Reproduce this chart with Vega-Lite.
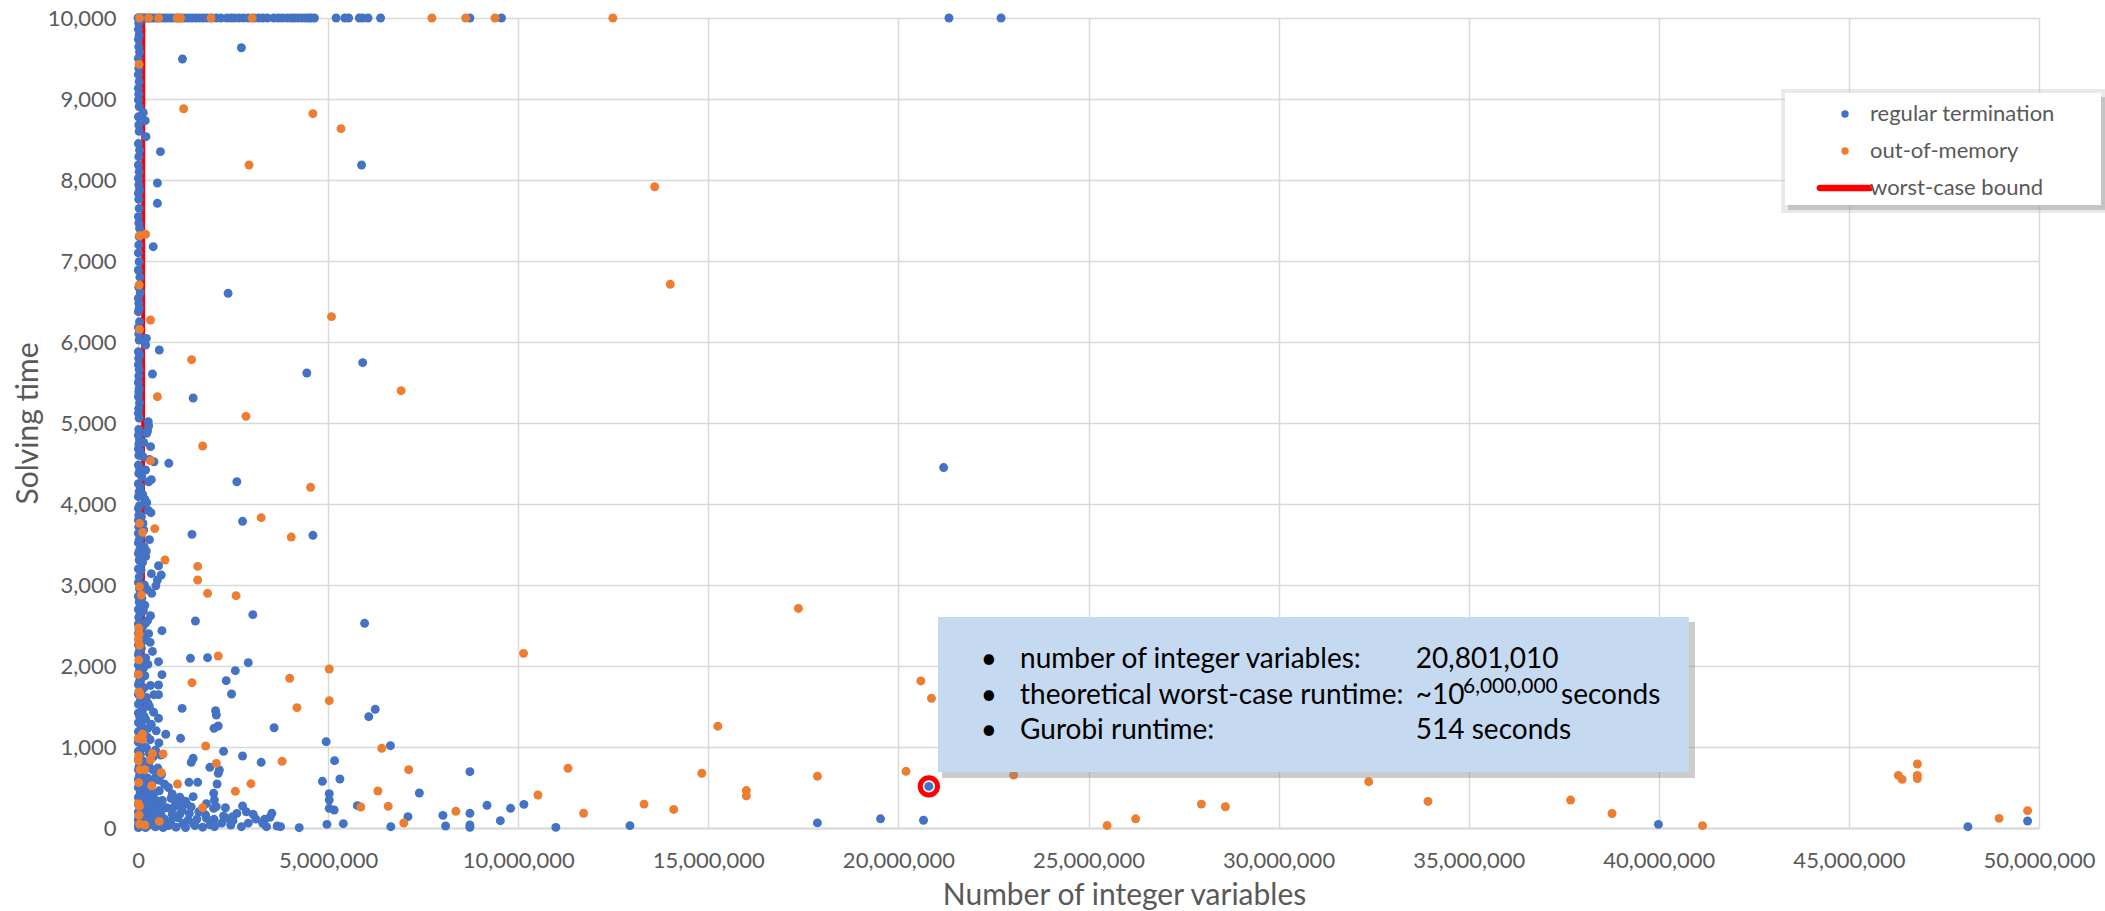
{
  "$schema": "https://vega.github.io/schema/vega-lite/v6.json",
  "width": 1901,
  "height": 810,
  "autosize": {"type": "none"},
  "padding": {"left": 138, "top": 18, "right": 66, "bottom": 83},
  "background": "white",
  "datasets": {
    "bound": [
      {"vars": 100000, "time": 0},
      {"vars": 130000, "time": 2500},
      {"vars": 140000, "time": 10000}
    ],
    "runs": [
      {"vars":0,"time":10000,"status":"regular"},{"vars":20000,"time":10000,"status":"regular"},{"vars":60000,"time":10000,"status":"regular"},{"vars":100000,"time":10000,"status":"regular"},{"vars":150000,"time":10000,"status":"regular"},{"vars":200000,"time":10000,"status":"regular"},{"vars":260000,"time":10000,"status":"regular"},{"vars":320000,"time":10000,"status":"regular"},{"vars":380000,"time":10000,"status":"regular"},{"vars":450000,"time":10000,"status":"regular"},{"vars":520000,"time":10000,"status":"regular"},{"vars":600000,"time":10000,"status":"regular"},{"vars":680000,"time":10000,"status":"regular"},{"vars":760000,"time":10000,"status":"regular"},{"vars":850000,"time":10000,"status":"regular"},{"vars":940000,"time":10000,"status":"regular"},{"vars":1030000,"time":10000,"status":"regular"},{"vars":1120000,"time":10000,"status":"regular"},{"vars":1220000,"time":10000,"status":"regular"},{"vars":1320000,"time":10000,"status":"regular"},{"vars":1420000,"time":10000,"status":"regular"},{"vars":1520000,"time":10000,"status":"regular"},{"vars":1620000,"time":10000,"status":"regular"},{"vars":1720000,"time":10000,"status":"regular"},{"vars":1820000,"time":10000,"status":"regular"},{"vars":1930000,"time":10000,"status":"regular"},{"vars":2060000,"time":10000,"status":"regular"},{"vars":2180000,"time":10000,"status":"regular"},{"vars":2340000,"time":10000,"status":"regular"},{"vars":2450000,"time":10000,"status":"regular"},{"vars":2530000,"time":10000,"status":"regular"},{"vars":2650000,"time":10000,"status":"regular"},{"vars":2770000,"time":10000,"status":"regular"},{"vars":2900000,"time":10000,"status":"regular"},{"vars":3050000,"time":10000,"status":"regular"},{"vars":3170000,"time":10000,"status":"regular"},{"vars":3280000,"time":10000,"status":"regular"},{"vars":3400000,"time":10000,"status":"regular"},{"vars":3570000,"time":10000,"status":"regular"},{"vars":3690000,"time":10000,"status":"regular"},{"vars":3800000,"time":10000,"status":"regular"},{"vars":3930000,"time":10000,"status":"regular"},{"vars":4040000,"time":10000,"status":"regular"},{"vars":4120000,"time":10000,"status":"regular"},{"vars":4220000,"time":10000,"status":"regular"},{"vars":4320000,"time":10000,"status":"regular"},{"vars":4410000,"time":10000,"status":"regular"},{"vars":4490000,"time":10000,"status":"regular"},{"vars":4550000,"time":10000,"status":"regular"},{"vars":4640000,"time":10000,"status":"regular"},{"vars":5210000,"time":10000,"status":"regular"},{"vars":5440000,"time":10000,"status":"regular"},{"vars":5540000,"time":10000,"status":"regular"},{"vars":5820000,"time":10000,"status":"regular"},{"vars":5910000,"time":10000,"status":"regular"},{"vars":6050000,"time":10000,"status":"regular"},{"vars":6380000,"time":10000,"status":"regular"},{"vars":8730000,"time":10000,"status":"regular"},{"vars":9560000,"time":10000,"status":"regular"},{"vars":21330000,"time":10000,"status":"regular"},{"vars":22700000,"time":10000,"status":"regular"},
      {"vars":20000,"time":9934,"status":"regular"},{"vars":10000,"time":9860,"status":"regular"},{"vars":30000,"time":9790,"status":"regular"},{"vars":10000,"time":9737,"status":"regular"},{"vars":20000,"time":9646,"status":"regular"},{"vars":40000,"time":9580,"status":"regular"},{"vars":10000,"time":9500,"status":"regular"},{"vars":20000,"time":9379,"status":"regular"},{"vars":10000,"time":9300,"status":"regular"},{"vars":30000,"time":9214,"status":"regular"},{"vars":10000,"time":9132,"status":"regular"},{"vars":20000,"time":9060,"status":"regular"},{"vars":10000,"time":8990,"status":"regular"},{"vars":30000,"time":8905,"status":"regular"},{"vars":140000,"time":8831,"status":"regular"},{"vars":10000,"time":8780,"status":"regular"},{"vars":190000,"time":8733,"status":"regular"},{"vars":20000,"time":8679,"status":"regular"},{"vars":30000,"time":8600,"status":"regular"},{"vars":210000,"time":8535,"status":"regular"},{"vars":10000,"time":8450,"status":"regular"},{"vars":40000,"time":8370,"status":"regular"},{"vars":20000,"time":8288,"status":"regular"},{"vars":10000,"time":8185,"status":"regular"},{"vars":30000,"time":8103,"status":"regular"},{"vars":10000,"time":8020,"status":"regular"},{"vars":20000,"time":7938,"status":"regular"},{"vars":40000,"time":7877,"status":"regular"},{"vars":10000,"time":7835,"status":"regular"},{"vars":20000,"time":7761,"status":"regular"},{"vars":30000,"time":7650,"status":"regular"},{"vars":10000,"time":7547,"status":"regular"},{"vars":20000,"time":7470,"status":"regular"},{"vars":40000,"time":7403,"status":"regular"},{"vars":30000,"time":7300,"status":"regular"},{"vars":20000,"time":7198,"status":"regular"},{"vars":10000,"time":7100,"status":"regular"},{"vars":30000,"time":6991,"status":"regular"},{"vars":10000,"time":6889,"status":"regular"},{"vars":50000,"time":6800,"status":"regular"},{"vars":20000,"time":6675,"status":"regular"},{"vars":60000,"time":6609,"status":"regular"},{"vars":10000,"time":6540,"status":"regular"},{"vars":20000,"time":6477,"status":"regular"},{"vars":30000,"time":6416,"status":"regular"},{"vars":10000,"time":6374,"status":"regular"},{"vars":40000,"time":6251,"status":"regular"},{"vars":10000,"time":6180,"status":"regular"},{"vars":20000,"time":6100,"status":"regular"},{"vars":220000,"time":6045,"status":"regular"},{"vars":30000,"time":6025,"status":"regular"},{"vars":200000,"time":5963,"status":"regular"},{"vars":560000,"time":5901,"status":"regular"},{"vars":10000,"time":5880,"status":"regular"},{"vars":40000,"time":5840,"status":"regular"},{"vars":20000,"time":5799,"status":"regular"},{"vars":10000,"time":5720,"status":"regular"},{"vars":30000,"time":5660,"status":"regular"},{"vars":380000,"time":5605,"status":"regular"},{"vars":20000,"time":5580,"status":"regular"},{"vars":10000,"time":5500,"status":"regular"},{"vars":30000,"time":5428,"status":"regular"},{"vars":20000,"time":5387,"status":"regular"},{"vars":10000,"time":5325,"status":"regular"},{"vars":40000,"time":5250,"status":"regular"},{"vars":20000,"time":5181,"status":"regular"},{"vars":10000,"time":5119,"status":"regular"},{"vars":30000,"time":5060,"status":"regular"},{"vars":270000,"time":5016,"status":"regular"},{"vars":280000,"time":4963,"status":"regular"},{"vars":20000,"time":4920,"status":"regular"},{"vars":230000,"time":4873,"status":"regular"},{"vars":10000,"time":4850,"status":"regular"},{"vars":40000,"time":4790,"status":"regular"},{"vars":20000,"time":4740,"status":"regular"},{"vars":330000,"time":4708,"status":"regular"},{"vars":10000,"time":4680,"status":"regular"},{"vars":60000,"time":4646,"status":"regular"},{"vars":20000,"time":4600,"status":"regular"},{"vars":130000,"time":4584,"status":"regular"},{"vars":420000,"time":4522,"status":"regular"},{"vars":10000,"time":4481,"status":"regular"},{"vars":50000,"time":4430,"status":"regular"},{"vars":20000,"time":4378,"status":"regular"},{"vars":100000,"time":4337,"status":"regular"},{"vars":280000,"time":4275,"status":"regular"},{"vars":10000,"time":4250,"status":"regular"},{"vars":60000,"time":4214,"status":"regular"},{"vars":30000,"time":4152,"status":"regular"},{"vars":120000,"time":4120,"status":"regular"},{"vars":10000,"time":4090,"status":"regular"},{"vars":230000,"time":4016,"status":"regular"},{"vars":40000,"time":3980,"status":"regular"},{"vars":10000,"time":3946,"status":"regular"},{"vars":340000,"time":3893,"status":"regular"},{"vars":20000,"time":3860,"status":"regular"},{"vars":90000,"time":3843,"status":"regular"},{"vars":10000,"time":3800,"status":"regular"},{"vars":50000,"time":3761,"status":"regular"},{"vars":20000,"time":3720,"status":"regular"},{"vars":150000,"time":3679,"status":"regular"},{"vars":10000,"time":3638,"status":"regular"},{"vars":80000,"time":3600,"status":"regular"},{"vars":30000,"time":3556,"status":"regular"},{"vars":10000,"time":3520,"status":"regular"},{"vars":160000,"time":3473,"status":"regular"},{"vars":40000,"time":3430,"status":"regular"},{"vars":10000,"time":3391,"status":"regular"},{"vars":200000,"time":3350,"status":"regular"},{"vars":30000,"time":3309,"status":"regular"},{"vars":540000,"time":3238,"status":"regular"},{"vars":10000,"time":3200,"status":"regular"},{"vars":80000,"time":3185,"status":"regular"},{"vars":610000,"time":3123,"status":"regular"},{"vars":30000,"time":3100,"status":"regular"},{"vars":510000,"time":3062,"status":"regular"},{"vars":10000,"time":3030,"status":"regular"},{"vars":170000,"time":3000,"status":"regular"},{"vars":470000,"time":2990,"status":"regular"},{"vars":40000,"time":2950,"status":"regular"},{"vars":360000,"time":2897,"status":"regular"},{"vars":10000,"time":2860,"status":"regular"},{"vars":100000,"time":2835,"status":"regular"},{"vars":30000,"time":2790,"status":"regular"},{"vars":180000,"time":2750,"status":"regular"},{"vars":10000,"time":2700,"status":"regular"},{"vars":60000,"time":2650,"status":"regular"},{"vars":20000,"time":2600,"status":"regular"},{"vars":250000,"time":2560,"status":"regular"},{"vars":10000,"time":2520,"status":"regular"},{"vars":120000,"time":2480,"status":"regular"},{"vars":630000,"time":2436,"status":"regular"},{"vars":30000,"time":2440,"status":"regular"},{"vars":10000,"time":2400,"status":"regular"},{"vars":180000,"time":2360,"status":"regular"},{"vars":40000,"time":2330,"status":"regular"},{"vars":320000,"time":2292,"status":"regular"},{"vars":10000,"time":2260,"status":"regular"},{"vars":90000,"time":2220,"status":"regular"},{"vars":30000,"time":2180,"status":"regular"},{"vars":10000,"time":2140,"status":"regular"},{"vars":200000,"time":2100,"status":"regular"},{"vars":60000,"time":2060,"status":"regular"},{"vars":540000,"time":2053,"status":"regular"},{"vars":10000,"time":2010,"status":"regular"},{"vars":140000,"time":1970,"status":"regular"},{"vars":30000,"time":1930,"status":"regular"},{"vars":630000,"time":1893,"status":"regular"},{"vars":10000,"time":1890,"status":"regular"},{"vars":90000,"time":1850,"status":"regular"},{"vars":40000,"time":1810,"status":"regular"},{"vars":10000,"time":1770,"status":"regular"},{"vars":540000,"time":1765,"status":"regular"},{"vars":160000,"time":1730,"status":"regular"},{"vars":30000,"time":1690,"status":"regular"},{"vars":10000,"time":1650,"status":"regular"},{"vars":420000,"time":1646,"status":"regular"},{"vars":540000,"time":1646,"status":"regular"},{"vars":220000,"time":1610,"status":"regular"},{"vars":60000,"time":1570,"status":"regular"},{"vars":10000,"time":1530,"status":"regular"},{"vars":300000,"time":1500,"status":"regular"},{"vars":120000,"time":1460,"status":"regular"},{"vars":10000,"time":1420,"status":"regular"},{"vars":40000,"time":1380,"status":"regular"},{"vars":540000,"time":1354,"status":"regular"},{"vars":200000,"time":1340,"status":"regular"},{"vars":10000,"time":1300,"status":"regular"},{"vars":80000,"time":1260,"status":"regular"},{"vars":260000,"time":1230,"status":"regular"},{"vars":10000,"time":1190,"status":"regular"},{"vars":150000,"time":1160,"status":"regular"},{"vars":730000,"time":1157,"status":"regular"},{"vars":40000,"time":1120,"status":"regular"},{"vars":320000,"time":1090,"status":"regular"},{"vars":10000,"time":1060,"status":"regular"},{"vars":100000,"time":1020,"status":"regular"},{"vars":220000,"time":990,"status":"regular"},{"vars":10000,"time":950,"status":"regular"},{"vars":60000,"time":910,"status":"regular"},{"vars":400000,"time":880,"status":"regular"},{"vars":10000,"time":850,"status":"regular"},{"vars":160000,"time":820,"status":"regular"},{"vars":280000,"time":790,"status":"regular"},{"vars":30000,"time":760,"status":"regular"},{"vars":520000,"time":740,"status":"regular"},{"vars":10000,"time":720,"status":"regular"},{"vars":120000,"time":690,"status":"regular"},{"vars":620000,"time":660,"status":"regular"},{"vars":40000,"time":650,"status":"regular"},{"vars":240000,"time":620,"status":"regular"},{"vars":10000,"time":600,"status":"regular"},{"vars":400000,"time":580,"status":"regular"},{"vars":80000,"time":560,"status":"regular"},{"vars":700000,"time":540,"status":"regular"},{"vars":180000,"time":520,"status":"regular"},{"vars":10000,"time":500,"status":"regular"},{"vars":100000,"time":470,"status":"regular"},{"vars":300000,"time":480,"status":"regular"},{"vars":560000,"time":460,"status":"regular"},{"vars":60000,"time":440,"status":"regular"},{"vars":400000,"time":430,"status":"regular"},{"vars":200000,"time":410,"status":"regular"},{"vars":10000,"time":380,"status":"regular"},{"vars":250000,"time":390,"status":"regular"},{"vars":420000,"time":370,"status":"regular"},{"vars":120000,"time":350,"status":"regular"},{"vars":640000,"time":340,"status":"regular"},{"vars":30000,"time":330,"status":"regular"},{"vars":500000,"time":330,"status":"regular"},{"vars":980000,"time":330,"status":"regular"},{"vars":260000,"time":310,"status":"regular"},{"vars":10000,"time":290,"status":"regular"},{"vars":520000,"time":280,"status":"regular"},{"vars":350000,"time":270,"status":"regular"},{"vars":80000,"time":260,"status":"regular"},{"vars":760000,"time":250,"status":"regular"},{"vars":620000,"time":240,"status":"regular"},{"vars":340000,"time":230,"status":"regular"},{"vars":150000,"time":230,"status":"regular"},{"vars":1160000,"time":220,"status":"regular"},{"vars":480000,"time":210,"status":"regular"},{"vars":10000,"time":200,"status":"regular"},{"vars":160000,"time":190,"status":"regular"},{"vars":600000,"time":180,"status":"regular"},{"vars":280000,"time":170,"status":"regular"},{"vars":900000,"time":170,"status":"regular"},{"vars":440000,"time":150,"status":"regular"},{"vars":20000,"time":150,"status":"regular"},{"vars":60000,"time":140,"status":"regular"},{"vars":1040000,"time":130,"status":"regular"},{"vars":240000,"time":120,"status":"regular"},{"vars":700000,"time":110,"status":"regular"},{"vars":10000,"time":100,"status":"regular"},{"vars":1320000,"time":100,"status":"regular"},{"vars":380000,"time":90,"status":"regular"},{"vars":860000,"time":80,"status":"regular"},{"vars":140000,"time":70,"status":"regular"},{"vars":560000,"time":60,"status":"regular"},{"vars":1180000,"time":60,"status":"regular"},{"vars":10000,"time":40,"status":"regular"},{"vars":300000,"time":40,"status":"regular"},{"vars":800000,"time":30,"status":"regular"},{"vars":1500000,"time":30,"status":"regular"},{"vars":60000,"time":20,"status":"regular"},{"vars":460000,"time":15,"status":"regular"},{"vars":1000000,"time":10,"status":"regular"},{"vars":200000,"time":5,"status":"regular"},{"vars":660000,"time":5,"status":"regular"},{"vars":1250000,"time":5,"status":"regular"},{"vars":1700000,"time":10,"status":"regular"},{"vars":1900000,"time":40,"status":"regular"},{"vars":10000,"time":5,"status":"regular"},
      {"vars":250000,"time":4900,"status":"regular"},{"vars":150000,"time":4760,"status":"regular"},{"vars":300000,"time":4550,"status":"regular"},{"vars":200000,"time":4420,"status":"regular"},{"vars":350000,"time":4300,"status":"regular"},{"vars":180000,"time":4060,"status":"regular"},{"vars":270000,"time":3920,"status":"regular"},{"vars":130000,"time":3760,"status":"regular"},{"vars":300000,"time":3560,"status":"regular"},{"vars":220000,"time":3420,"status":"regular"},{"vars":120000,"time":3280,"status":"regular"},{"vars":350000,"time":3140,"status":"regular"},{"vars":250000,"time":2940,"status":"regular"},{"vars":140000,"time":2680,"status":"regular"},{"vars":330000,"time":2620,"status":"regular"},{"vars":200000,"time":2530,"status":"regular"},{"vars":280000,"time":2400,"status":"regular"},{"vars":110000,"time":2300,"status":"regular"},{"vars":380000,"time":2180,"status":"regular"},{"vars":260000,"time":2020,"status":"regular"},{"vars":180000,"time":1880,"status":"regular"},{"vars":330000,"time":1760,"status":"regular"},{"vars":100000,"time":1700,"status":"regular"},{"vars":260000,"time":1540,"status":"regular"},{"vars":410000,"time":1430,"status":"regular"},{"vars":160000,"time":1380,"status":"regular"},{"vars":350000,"time":1280,"status":"regular"},{"vars":480000,"time":1200,"status":"regular"},{"vars":250000,"time":1120,"status":"regular"},{"vars":550000,"time":1050,"status":"regular"},{"vars":170000,"time":1000,"status":"regular"},{"vars":460000,"time":960,"status":"regular"},{"vars":300000,"time":920,"status":"regular"},{"vars":600000,"time":900,"status":"regular"},{"vars":130000,"time":780,"status":"regular"},{"vars":380000,"time":720,"status":"regular"},{"vars":480000,"time":640,"status":"regular"},{"vars":300000,"time":600,"status":"regular"},{"vars":560000,"time":590,"status":"regular"},{"vars":200000,"time":560,"status":"regular"},{"vars":800000,"time":500,"status":"regular"},{"vars":900000,"time":420,"status":"regular"},{"vars":1100000,"time":380,"status":"regular"},{"vars":1250000,"time":330,"status":"regular"},{"vars":1400000,"time":260,"status":"regular"},{"vars":1600000,"time":200,"status":"regular"},{"vars":1350000,"time":180,"status":"regular"},{"vars":1800000,"time":120,"status":"regular"},{"vars":2200000,"time":60,"status":"regular"},{"vars":2500000,"time":90,"status":"regular"},{"vars":2600000,"time":180,"status":"regular"},{"vars":2300000,"time":250,"status":"regular"},{"vars":1550000,"time":110,"status":"regular"},{"vars":950000,"time":260,"status":"regular"},{"vars":1100000,"time":170,"status":"regular"},{"vars":1450000,"time":60,"status":"regular"},{"vars":1800000,"time":300,"status":"regular"},{"vars":2250000,"time":150,"status":"regular"},{"vars":2900000,"time":60,"status":"regular"},{"vars":3100000,"time":110,"status":"regular"},{"vars":2850000,"time":200,"status":"regular"},
      {"vars":1170000,"time":9494,"status":"regular"},{"vars":2720000,"time":9633,"status":"regular"},{"vars":590000,"time":8350,"status":"regular"},{"vars":5880000,"time":8185,"status":"regular"},{"vars":510000,"time":7963,"status":"regular"},{"vars":510000,"time":7712,"status":"regular"},{"vars":400000,"time":7177,"status":"regular"},{"vars":2370000,"time":6601,"status":"regular"},{"vars":5910000,"time":5745,"status":"regular"},{"vars":4440000,"time":5617,"status":"regular"},{"vars":1450000,"time":5309,"status":"regular"},{"vars":810000,"time":4502,"status":"regular"},{"vars":2600000,"time":4275,"status":"regular"},{"vars":2750000,"time":3786,"status":"regular"},{"vars":1420000,"time":3625,"status":"regular"},{"vars":4600000,"time":3613,"status":"regular"},{"vars":3020000,"time":2634,"status":"regular"},{"vars":1510000,"time":2556,"status":"regular"},{"vars":5960000,"time":2527,"status":"regular"},{"vars":1380000,"time":2095,"status":"regular"},{"vars":1830000,"time":2103,"status":"regular"},{"vars":2900000,"time":2041,"status":"regular"},{"vars":2560000,"time":1942,"status":"regular"},{"vars":2320000,"time":1819,"status":"regular"},{"vars":2460000,"time":1654,"status":"regular"},{"vars":1160000,"time":1477,"status":"regular"},{"vars":2040000,"time":1448,"status":"regular"},{"vars":2060000,"time":1395,"status":"regular"},{"vars":6240000,"time":1465,"status":"regular"},{"vars":6070000,"time":1374,"status":"regular"},{"vars":2110000,"time":1259,"status":"regular"},{"vars":2000000,"time":1231,"status":"regular"},{"vars":3580000,"time":1238,"status":"regular"},{"vars":1120000,"time":1107,"status":"regular"},{"vars":4950000,"time":1066,"status":"regular"},{"vars":6640000,"time":1016,"status":"regular"},{"vars":2250000,"time":947,"status":"regular"},{"vars":2750000,"time":889,"status":"regular"},{"vars":5170000,"time":831,"status":"regular"},{"vars":3240000,"time":811,"status":"regular"},{"vars":1400000,"time":811,"status":"regular"},{"vars":1450000,"time":860,"status":"regular"},{"vars":1890000,"time":749,"status":"regular"},{"vars":2140000,"time":716,"status":"regular"},{"vars":2110000,"time":675,"status":"regular"},{"vars":8730000,"time":695,"status":"regular"},{"vars":4850000,"time":576,"status":"regular"},{"vars":5310000,"time":605,"status":"regular"},{"vars":1340000,"time":564,"status":"regular"},{"vars":1570000,"time":564,"status":"regular"},{"vars":2080000,"time":543,"status":"regular"},{"vars":5030000,"time":424,"status":"regular"},{"vars":7400000,"time":432,"status":"regular"},{"vars":870000,"time":366,"status":"regular"},{"vars":1090000,"time":296,"status":"regular"},{"vars":1280000,"time":296,"status":"regular"},{"vars":1450000,"time":387,"status":"regular"},{"vars":1990000,"time":428,"status":"regular"},{"vars":2010000,"time":346,"status":"regular"},{"vars":2060000,"time":263,"status":"regular"},{"vars":1990000,"time":243,"status":"regular"},{"vars":2750000,"time":272,"status":"regular"},{"vars":5030000,"time":346,"status":"regular"},{"vars":5030000,"time":243,"status":"regular"},{"vars":5160000,"time":222,"status":"regular"},{"vars":5770000,"time":276,"status":"regular"},{"vars":9180000,"time":280,"status":"regular"},{"vars":9800000,"time":243,"status":"regular"},{"vars":10150000,"time":292,"status":"regular"},{"vars":3030000,"time":169,"status":"regular"},{"vars":3330000,"time":107,"status":"regular"},{"vars":3470000,"time":132,"status":"regular"},{"vars":3520000,"time":181,"status":"regular"},{"vars":2720000,"time":16,"status":"regular"},{"vars":2340000,"time":119,"status":"regular"},{"vars":2490000,"time":140,"status":"regular"},{"vars":2440000,"time":37,"status":"regular"},{"vars":2000000,"time":107,"status":"regular"},{"vars":2010000,"time":16,"status":"regular"},{"vars":1680000,"time":222,"status":"regular"},{"vars":1780000,"time":160,"status":"regular"},{"vars":3660000,"time":25,"status":"regular"},{"vars":3750000,"time":16,"status":"regular"},{"vars":3380000,"time":16,"status":"regular"},{"vars":3280000,"time":58,"status":"regular"},{"vars":4240000,"time":4,"status":"regular"},{"vars":4970000,"time":45,"status":"regular"},{"vars":5400000,"time":53,"status":"regular"},{"vars":6650000,"time":16,"status":"regular"},{"vars":7100000,"time":140,"status":"regular"},{"vars":8020000,"time":156,"status":"regular"},{"vars":8090000,"time":25,"status":"regular"},{"vars":8730000,"time":181,"status":"regular"},{"vars":8730000,"time":37,"status":"regular"},{"vars":8730000,"time":8,"status":"regular"},{"vars":9530000,"time":90,"status":"regular"},{"vars":10990000,"time":8,"status":"regular"},{"vars":12940000,"time":29,"status":"regular"},{"vars":21190000,"time":4450,"status":"regular"},{"vars":17870000,"time":63,"status":"regular"},{"vars":19530000,"time":113,"status":"regular"},{"vars":20660000,"time":96,"status":"regular"},{"vars":20801010,"time":514,"status":"regular"},{"vars":39990000,"time":45,"status":"regular"},{"vars":48130000,"time":16,"status":"regular"},{"vars":49700000,"time":86,"status":"regular"},
      {"vars":40000,"time":10000,"status":"oom"},{"vars":280000,"time":10000,"status":"oom"},{"vars":540000,"time":10000,"status":"oom"},{"vars":1030000,"time":10000,"status":"oom"},{"vars":1120000,"time":10000,"status":"oom"},{"vars":1920000,"time":10000,"status":"oom"},{"vars":3000000,"time":10000,"status":"oom"},{"vars":7730000,"time":10000,"status":"oom"},{"vars":8620000,"time":10000,"status":"oom"},{"vars":9390000,"time":10000,"status":"oom"},{"vars":12490000,"time":10000,"status":"oom"},
      {"vars":30000,"time":9428,"status":"oom"},{"vars":1200000,"time":8880,"status":"oom"},{"vars":4600000,"time":8819,"status":"oom"},{"vars":5340000,"time":8634,"status":"oom"},{"vars":2920000,"time":8185,"status":"oom"},{"vars":13590000,"time":7917,"status":"oom"},{"vars":14000000,"time":6712,"status":"oom"},{"vars":40000,"time":7312,"status":"oom"},{"vars":200000,"time":7330,"status":"oom"},{"vars":30000,"time":6704,"status":"oom"},{"vars":330000,"time":6272,"status":"oom"},{"vars":40000,"time":6156,"status":"oom"},{"vars":5090000,"time":6313,"status":"oom"},{"vars":1410000,"time":5782,"status":"oom"},{"vars":6920000,"time":5399,"status":"oom"},{"vars":510000,"time":5325,"status":"oom"},{"vars":2840000,"time":5082,"status":"oom"},{"vars":1700000,"time":4716,"status":"oom"},{"vars":330000,"time":4535,"status":"oom"},{"vars":4540000,"time":4206,"status":"oom"},{"vars":3240000,"time":3831,"status":"oom"},{"vars":440000,"time":3696,"status":"oom"},{"vars":40000,"time":3761,"status":"oom"},{"vars":120000,"time":3650,"status":"oom"},{"vars":4030000,"time":3592,"status":"oom"},{"vars":710000,"time":3309,"status":"oom"},{"vars":1570000,"time":3230,"status":"oom"},{"vars":1570000,"time":3062,"status":"oom"},{"vars":1830000,"time":2897,"status":"oom"},{"vars":2580000,"time":2868,"status":"oom"},{"vars":40000,"time":2979,"status":"oom"},{"vars":90000,"time":2877,"status":"oom"},{"vars":17370000,"time":2711,"status":"oom"},{"vars":10140000,"time":2156,"status":"oom"},{"vars":2110000,"time":2123,"status":"oom"},{"vars":5030000,"time":1963,"status":"oom"},{"vars":3990000,"time":1848,"status":"oom"},{"vars":1420000,"time":1794,"status":"oom"},{"vars":5030000,"time":1572,"status":"oom"},{"vars":4180000,"time":1486,"status":"oom"},{"vars":120000,"time":1095,"status":"oom"},{"vars":1780000,"time":1012,"status":"oom"},{"vars":6410000,"time":984,"status":"oom"},{"vars":660000,"time":914,"status":"oom"},{"vars":3790000,"time":823,"status":"oom"},{"vars":2060000,"time":798,"status":"oom"},{"vars":7120000,"time":720,"status":"oom"},{"vars":11310000,"time":737,"status":"oom"},{"vars":610000,"time":683,"status":"oom"},{"vars":1040000,"time":543,"status":"oom"},{"vars":2970000,"time":547,"status":"oom"},{"vars":360000,"time":522,"status":"oom"},{"vars":2560000,"time":453,"status":"oom"},{"vars":6310000,"time":457,"status":"oom"},{"vars":5860000,"time":259,"status":"oom"},{"vars":6580000,"time":268,"status":"oom"},{"vars":10520000,"time":407,"status":"oom"},{"vars":11720000,"time":181,"status":"oom"},{"vars":1700000,"time":251,"status":"oom"},{"vars":560000,"time":82,"status":"oom"},{"vars":40000,"time":271,"status":"oom"},{"vars":40000,"time":49,"status":"oom"},{"vars":180000,"time":37,"status":"oom"},{"vars":6990000,"time":62,"status":"oom"},{"vars":8360000,"time":206,"status":"oom"},{"vars":20590000,"time":1816,"status":"oom"},{"vars":20870000,"time":1601,"status":"oom"},{"vars":15250000,"time":1257,"status":"oom"},{"vars":14830000,"time":676,"status":"oom"},{"vars":16000000,"time":462,"status":"oom"},{"vars":16000000,"time":396,"status":"oom"},{"vars":17870000,"time":640,"status":"oom"},{"vars":20200000,"time":700,"status":"oom"},{"vars":23030000,"time":654,"status":"oom"},{"vars":13310000,"time":295,"status":"oom"},{"vars":14090000,"time":229,"status":"oom"},{"vars":25490000,"time":30,"status":"oom"},{"vars":26240000,"time":113,"status":"oom"},{"vars":27970000,"time":295,"status":"oom"},{"vars":28600000,"time":262,"status":"oom"},{"vars":32370000,"time":572,"status":"oom"},{"vars":33930000,"time":328,"status":"oom"},{"vars":37680000,"time":345,"status":"oom"},{"vars":38770000,"time":179,"status":"oom"},{"vars":41150000,"time":29,"status":"oom"},{"vars":46300000,"time":650,"status":"oom"},{"vars":46400000,"time":600,"status":"oom"},{"vars":46800000,"time":790,"status":"oom"},{"vars":46800000,"time":650,"status":"oom"},{"vars":46800000,"time":610,"status":"oom"},{"vars":48950000,"time":119,"status":"oom"},{"vars":49700000,"time":214,"status":"oom"},
      {"vars":20000,"time":2470,"status":"oom"},{"vars":30000,"time":2398,"status":"oom"},{"vars":10000,"time":2327,"status":"oom"},{"vars":40000,"time":2255,"status":"oom"},{"vars":20000,"time":2075,"status":"oom"},{"vars":10000,"time":1896,"status":"oom"},{"vars":30000,"time":1680,"status":"oom"},{"vars":60000,"time":1645,"status":"oom"},{"vars":10000,"time":1106,"status":"oom"},{"vars":20000,"time":891,"status":"oom"},{"vars":10000,"time":830,"status":"oom"},{"vars":50000,"time":720,"status":"oom"},{"vars":20000,"time":560,"status":"oom"},{"vars":10000,"time":300,"status":"oom"},{"vars":120000,"time":1160,"status":"oom"},{"vars":380000,"time":920,"status":"oom"},{"vars":330000,"time":840,"status":"oom"},{"vars":180000,"time":720,"status":"oom"},{"vars":30000,"time":160,"status":"oom"}
    ]
  },
  "layer": [
    {
      "data": {"name": "bound"},
      "mark": {"type": "line", "color": "#FF0000", "strokeWidth": 4},
      "encoding": {
        "x": {"field": "vars", "type": "quantitative"},
        "y": {"field": "time", "type": "quantitative"}
      }
    },
    {
      "data": {"values": [{}]},
      "mark": {"type": "point", "shape": "circle", "filled": true, "fill": "white", "stroke": "#FF0000", "strokeWidth": 5, "size": 300, "opacity": 1},
      "encoding": {
        "x": {"datum": 20801010, "type": "quantitative"},
        "y": {"datum": 514, "type": "quantitative"}
      }
    },
    {
      "data": {"name": "runs"},
      "mark": {"type": "point", "filled": true, "opacity": 1, "size": 80, "strokeWidth": 0},
      "encoding": {
        "x": {
          "field": "vars", "type": "quantitative", "title": "Number of integer variables",
          "scale": {"domain": [0, 50000000], "nice": false},
          "axis": {
            "values": [0, 5000000, 10000000, 15000000, 20000000, 25000000, 30000000, 35000000, 40000000, 45000000, 50000000],
            "labelExpr": "format(datum.value, ',')", "labelPadding": 22, "labelFlush": false,
            "domain": true, "domainColor": "#d9d9d9", "domainWidth": 2,
            "titleX": 986, "titleY": 76, "titleBaseline": "alphabetic", "titleAlign": "center", "titleAnchor": null
          }
        },
        "y": {
          "field": "time", "type": "quantitative", "title": "Solving time",
          "scale": {"domain": [0, 10000], "nice": false},
          "axis": {
            "values": [0, 1000, 2000, 3000, 4000, 5000, 6000, 7000, 8000, 9000, 10000],
            "labelExpr": "format(datum.value, ',')", "labelPadding": 22,
            "titleX": -110, "titleY": 405, "titleBaseline": "middle", "titleAlign": "center", "titleAnchor": null, "titleAngle": -90
          }
        },
        "color": {
          "field": "status", "type": "nominal",
          "scale": {"domain": ["regular", "oom", "bound"], "range": ["#4472C4", "#ED7D31", "#FF0000"]},
          "legend": {"labelExpr": "datum.value == 'regular' ? 'regular termination' : datum.value == 'oom' ? 'out-of-memory' : 'worst-case bound'"}
        },
        "shape": {
          "field": "status", "type": "nominal",
          "scale": {"domain": ["regular", "oom", "bound"], "range": ["circle", "circle", "M-6.78,-0.9H6.78A0.9,0.9 0 0 1 6.78,0.9H-6.78A0.9,0.9 0 0 1 -6.78,-0.9Z"]},
          "legend": {"labelExpr": "datum.value == 'regular' ? 'regular termination' : datum.value == 'oom' ? 'out-of-memory' : 'worst-case bound'"}
        }
      }
    },
    {
      "data": {"values": [{}]},
      "mark": {"type": "rect", "color": "#7f7f7f", "opacity": 0.4},
      "encoding": {
        "x": {"datum": 21150000, "type": "quantitative"},
        "x2": {"datum": 40950000},
        "y": {"datum": 2543, "type": "quantitative"},
        "y2": {"datum": 617}
      }
    },
    {
      "data": {"values": [{}]},
      "mark": {"type": "rect", "color": "#C5D9F1", "opacity": 1},
      "encoding": {
        "x": {"datum": 21040000, "type": "quantitative"},
        "x2": {"datum": 40790000},
        "y": {"datum": 2605, "type": "quantitative"},
        "y2": {"datum": 691}
      }
    },
    {
      "data": {"values": [{}]},
      "mark": {"type": "text", "text": ["•", "•", "•"], "lineHeight": 35.5, "font": "Lato", "fontSize": 28, "color": "#000000", "align": "center", "baseline": "alphabetic"},
      "encoding": {
        "x": {"datum": 22380000, "type": "quantitative"},
        "y": {"datum": 1975, "type": "quantitative"}
      }
    },
    {
      "data": {"values": [{}]},
      "mark": {"type": "text", "text": ["number of integer variables:", "theoretical worst-case runtime:", "Gurobi runtime:"], "lineHeight": 35.5, "font": "Lato", "fontSize": 28, "color": "#000000", "align": "left", "baseline": "alphabetic"},
      "encoding": {
        "x": {"datum": 23200000, "type": "quantitative"},
        "y": {"datum": 1975, "type": "quantitative"}
      }
    },
    {
      "data": {"values": [{}]},
      "mark": {"type": "text", "text": ["20,801,010", "~10", "514 seconds"], "lineHeight": 35.5, "font": "Lato", "fontSize": 28, "color": "#000000", "align": "left", "baseline": "alphabetic"},
      "encoding": {
        "x": {"datum": 33610000, "type": "quantitative"},
        "y": {"datum": 1975, "type": "quantitative"}
      }
    },
    {
      "data": {"values": [{}]},
      "mark": {"type": "text", "text": "6,000,000", "font": "Lato", "fontSize": 21, "color": "#000000", "align": "left", "baseline": "alphabetic"},
      "encoding": {
        "x": {"datum": 34850000, "type": "quantitative"},
        "y": {"datum": 1667, "type": "quantitative"}
      }
    },
    {
      "data": {"values": [{}]},
      "mark": {"type": "text", "text": "seconds", "font": "Lato", "fontSize": 28, "color": "#000000", "align": "left", "baseline": "alphabetic"},
      "encoding": {
        "x": {"datum": 37430000, "type": "quantitative"},
        "y": {"datum": 1537, "type": "quantitative"}
      }
    },
    {
      "data": {"values": [{}]},
      "mark": {"type": "rect", "color": "#bfbfbf", "opacity": 0.35},
      "encoding": {
        "x": {"datum": 43220000, "type": "quantitative"},
        "x2": {"datum": 51760000},
        "y": {"datum": 9123, "type": "quantitative"},
        "y2": {"datum": 7593}
      }
    },
    {
      "data": {"values": [{}]},
      "mark": {"type": "rect", "color": "#8c8c8c", "opacity": 0.4},
      "encoding": {
        "x": {"datum": 43400000, "type": "quantitative"},
        "x2": {"datum": 51740000},
        "y": {"datum": 9025, "type": "quantitative"},
        "y2": {"datum": 7630}
      }
    },
    {
      "data": {"values": [{}]},
      "mark": {"type": "rect", "color": "#ffffff", "opacity": 1},
      "encoding": {
        "x": {"datum": 43320000, "type": "quantitative"},
        "x2": {"datum": 51630000},
        "y": {"datum": 9074, "type": "quantitative"},
        "y2": {"datum": 7691}
      }
    }
  ],
  "config": {
    "view": {"stroke": null},
    "font": "Lato",
    "axis": {
      "labelFont": "Lato", "labelFontSize": 22, "labelColor": "#595959",
      "titleFont": "Lato", "titleFontSize": 30, "titleFontWeight": "normal", "titleColor": "#595959",
      "grid": true, "gridColor": "#d9d9d9", "gridWidth": 1.5,
      "ticks": false, "domain": false
    },
    "legend": {
      "orient": "none", "legendX": 1675, "legendY": 85,
      "title": null, "padding": 0, "labelLimit": 400,
      "labelFont": "Lato", "labelFontSize": 22, "labelColor": "#595959",
      "symbolSize": 55, "symbolOpacity": 1, "symbolStrokeWidth": 0,
      "symbolOffset": 21, "labelOffset": 14, "rowPadding": 15
    }
  }
}
